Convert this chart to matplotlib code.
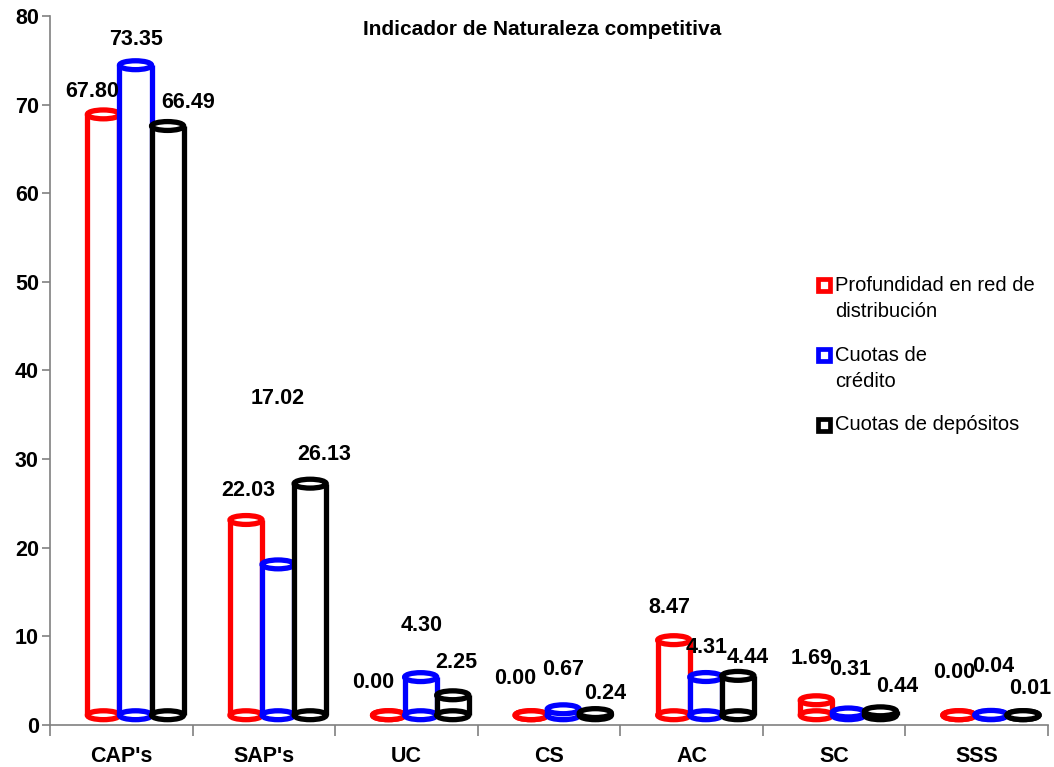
import matplotlib
matplotlib.use("Agg")
import matplotlib.pyplot as plt
from matplotlib.patches import Ellipse, Rectangle
from matplotlib.lines import Line2D

plt.rcParams['font.family'] = ['Liberation Sans', 'DejaVu Sans']

categories = ["CAP's", "SAP's", "UC", "CS", "AC", "SC", "SSS"]
series_names = ["Profundidad en red de\ndistribución", "Cuotas de\ncrédito", "Cuotas de depósitos"]
profundidad = [67.80, 22.03, 0.00, 0.00, 8.47, 1.69, 0.00]
cuotas_credito = [73.35, 17.02, 4.30, 0.67, 4.31, 0.31, 0.04]
cuotas_depositos = [66.49, 26.13, 2.25, 0.24, 4.44, 0.44, 0.01]
series = [profundidad, cuotas_credito, cuotas_depositos]
colors = ["#ff0000", "#0000ff", "#000000"]
y_ticks = [0, 10, 20, 30, 40, 50, 60, 70, 80]

# value-label anchor positions (data coords), one row per series
label_x = [
    [-0.206, 0.892, 1.766, 2.766, 3.843, 4.843, 5.843],
    [0.101, 1.094, 2.108, 3.101, 4.108, 5.115, 6.115],
    [0.472, 1.423, 2.353, 3.395, 4.395, 5.444, 6.374],
]
label_y = [
    [71.5, 26.5, 4.8, 5.2, 13.3, 7.5, 5.9],
    [77.3, 36.8, 11.2, 6.3, 8.7, 6.3, 6.6],
    [70.2, 30.5, 7.1, 3.6, 7.6, 4.3, 4.1],
]

fig = plt.figure(figsize=(10.54, 7.67), dpi=100)
ax = fig.add_axes([0.0474, 0.0548, 0.9469, 0.9243])

bar_w = 0.225
depth_x = 0.10       # pseudo-3D shift to the right
depth_y = 1.1        # pseudo-3D shift upward
ell_h = 1.0
lw = 3.8

for j, (vals, col) in enumerate(zip(series, colors)):
    for i, v in enumerate(vals):
        xc = i + depth_x + (j - 1) * bar_w
        x0 = xc - bar_w / 2
        y0 = depth_y
        z = 10 + j * 5
        ax.add_patch(Rectangle((x0, y0), bar_w, v, facecolor="white",
                               edgecolor="none", zorder=z))
        ax.add_patch(Ellipse((xc, y0), bar_w, ell_h, facecolor="white",
                             edgecolor=col, lw=lw, zorder=z + 1))
        ax.plot([x0, x0], [y0, y0 + v], color=col, lw=lw, zorder=z + 2,
                solid_capstyle="butt")
        ax.plot([x0 + bar_w, x0 + bar_w], [y0, y0 + v], color=col, lw=lw,
                zorder=z + 2, solid_capstyle="butt")
        ax.add_patch(Ellipse((xc, y0 + v), bar_w, ell_h, facecolor="white",
                             edgecolor=col, lw=lw, zorder=z + 3))
        ax.text(label_x[j][i], label_y[j][i], f"{v:.2f}", ha="center",
                va="center", fontsize=15.5, fontweight="bold", zorder=40)

ax.set_xlim(-0.5, len(categories) - 0.5)
ax.set_ylim(0, 80)
ax.set_yticks(y_ticks)
ax.set_yticklabels([str(t) for t in y_ticks], fontsize=15.5, fontweight="bold")
ax.set_xticks([k - 0.5 for k in range(len(categories) + 1)])
ax.set_xticklabels([])
ax.set_xticks(range(len(categories)), minor=True)
ax.set_xticklabels(categories, minor=True, fontsize=15.5, fontweight="bold")
ax.tick_params(axis="x", which="minor", length=0, pad=15)
ax.tick_params(axis="x", which="major", length=8, direction="out",
               color="#808080", width=1.2)
ax.tick_params(axis="y", length=6, color="#808080", width=1.2, pad=2)
for s in ("top", "right"):
    ax.spines[s].set_visible(False)
for s in ("left", "bottom"):
    ax.spines[s].set_color("#808080")
    ax.spines[s].set_linewidth(1.2)

fig.text(0.514, 0.961, "Indicador de Naturaleza competitiva", ha="center",
         va="center", fontsize=15, fontweight="bold")

# legend: square swatch followed by the (possibly wrapped) series name
leg_rows = [0.628, 0.537, 0.446]
line_step = 26 / 767
for name, col, yy in zip(series_names, colors, leg_rows):
    fig.lines.append(Line2D([0.7815], [yy], transform=fig.transFigure,
                            marker="s", markersize=8.5, markerfacecolor="white",
                            markeredgecolor=col, markeredgewidth=3.4,
                            linestyle="none"))
    for k, part in enumerate(name.split("\n")):
        fig.text(0.7925, yy - k * line_step, part, ha="left", va="center",
                 fontsize=14.5)

fig.savefig("out.png", dpi=100)
